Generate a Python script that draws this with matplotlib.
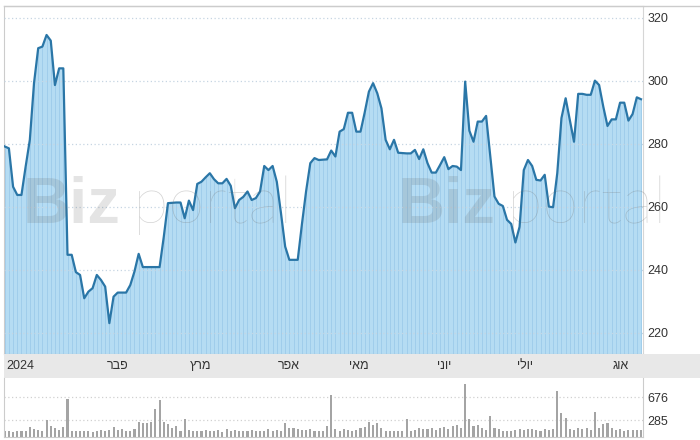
import numpy as np
import matplotlib.pyplot as plt
from matplotlib.lines import Line2D

# daily close (trading days, Jan - Aug 2024)
price = [279.2, 278.6, 266.4, 263.8, 263.8, 272.8, 281.3, 299.3, 310.4, 310.9,
         314.6, 312.8, 298.7, 304.0, 304.0, 244.8, 244.8, 239.3, 238.4, 231.0,
         233.1, 234.2, 238.4, 236.8, 234.7, 223.1, 231.5, 232.8, 232.8, 232.8,
         235.2, 239.5, 245.1, 240.9, 240.9, 240.9, 240.9, 240.9, 250.5, 261.2,
         261.3, 261.4, 261.4, 256.4, 262.0, 259.0, 267.3, 268.0, 269.4, 270.7,
         268.8, 267.5, 267.5, 268.9, 266.7, 259.6, 262.2, 263.2, 264.9, 262.2,
         262.8, 264.9, 273.0, 271.7, 273.0, 268.0, 258.0, 247.4, 243.2, 243.2,
         243.2, 254.5, 265.0, 273.9, 275.5, 274.9, 275.0, 275.1, 277.9, 276.0,
         283.9, 284.7, 289.9, 289.9, 283.9, 283.9, 290.0, 296.6, 299.3, 296.1,
         291.3, 281.3, 278.3, 281.3, 277.2, 277.1, 277.0, 277.0, 278.1, 275.2,
         278.3, 273.9, 270.9, 270.9, 273.3, 275.8, 272.0, 273.0, 272.8, 271.7,
         299.8, 284.2, 280.7, 287.1, 287.1, 288.9, 276.0, 263.3, 261.0, 260.3,
         255.9, 254.6, 248.7, 253.7, 271.7, 274.9, 273.0, 268.6, 268.4, 270.2,
         260.1, 259.9, 270.7, 288.2, 294.5, 287.6, 280.7, 295.9, 295.9, 295.6,
         295.6, 300.1, 298.7, 291.8, 285.7, 287.8, 287.8, 293.1, 293.1, 287.4,
         289.5, 294.8, 294.2]

volume = [95, 100, 90, 110, 105, 95, 170, 130, 125, 100,
          280, 180, 150, 120, 170, 650, 110, 105, 100, 95,
          110, 90, 105, 120, 100, 115, 170, 125, 135, 110,
          105, 140, 250, 240, 245, 250, 480, 630, 250, 220,
          150, 180, 110, 310, 120, 105, 95, 110, 120, 100,
          110, 115, 90, 130, 100, 120, 95, 105, 110, 125,
          100, 95, 110, 140, 105, 115, 100, 240, 160, 150,
          130, 120, 115, 130, 100, 110, 95, 180, 720, 130,
          110, 130, 120, 110, 120, 150, 170, 250, 200, 230,
          150, 100, 95, 100, 95, 105, 300, 110, 120, 150,
          140, 130, 160, 120, 150, 170, 140, 180, 200, 160,
          900, 300, 180, 200, 150, 120, 350, 150, 130, 110,
          100, 110, 120, 130, 115, 140, 135, 120, 110, 130,
          120, 140, 780, 400, 330, 140, 120, 150, 130, 160,
          120, 420, 150, 220, 230, 150, 120, 130, 110, 120,
          115, 125, 120]

month_idx = [0, 24, 44, 65, 82, 103, 122, 145]
month_labels = ['2024', 'פבר', 'מרץ', 'אפר', 'מאי', 'יוני', 'יולי', 'אוג']
price_ticks = [220, 240, 260, 280, 300, 320]
vol_ticks = [285, 676]

plt.rcParams['font.family'] = ['Liberation Sans', 'DejaVu Sans']

W, H = 700, 440
fig = plt.figure(figsize=(7, 4.4), dpi=100)


def box(x0, y0, x1, y1):
    # pixel box (top-left origin) -> figure fraction rect
    return [x0 / W, 1 - y1 / H, (x1 - x0) / W, (y1 - y0) / H]


step = 4.186  # px per trading day
xl = (-0.17, -0.17 + 639 / step)
x = np.arange(len(price))

# price panel
ax = fig.add_axes(box(4, 6, 643, 354))
ax.fill_between(x, price, 200, color='#b5dcf3', lw=0, zorder=1)
ax.vlines(x, 200, price, color='#a0cdeb', lw=0.7, zorder=2)
for t in price_ticks:
    ax.axhline(t, color='#c6d5e2', lw=0.9, ls=(0, (1, 2)), zorder=3)
ax.plot(x, price, color='#2a76a7', lw=1.6, zorder=4, solid_joinstyle='round')
ax.set_xlim(xl)
ax.set_ylim(213.3, 323.8)
ax.set_xticks([])
ax.yaxis.tick_right()
ax.set_yticks(price_ticks)
ax.tick_params(axis='y', length=0, pad=3, labelsize=9, labelcolor='#333333')
for s in ['top', 'left']:
    ax.spines[s].set_color('#cccccc')
ax.spines['right'].set_color('#d6d6d6')
ax.spines['bottom'].set_color('#b8b8b8')

# date band
band = fig.add_axes(box(4, 354, 700, 378))
band.set_facecolor('#e8e8e8')
band.set_xlim(xl[0], xl[0] + 696 / step)
band.set_ylim(0, 1)
band.set_xticks([])
band.set_yticks([])
for s in band.spines.values():
    s.set_visible(False)
for i, lab in zip(month_idx, month_labels):
    band.text(i + 0.3, 0.5, lab[::-1] if not lab.isdigit() else lab,
              ha='left', va='center', fontsize=9, color='#333333')

# volume panel
axv = fig.add_axes(box(4, 378, 643, 437))
axv.bar(x, volume, width=0.5, color='#a4a4a4', zorder=2)
for t in vol_ticks:
    axv.axhline(t, color='#d0d0d0', lw=0.9, ls=(0, (1, 2)), zorder=1)
axv.set_xlim(xl)
axv.set_ylim(0, 1000)
axv.set_xticks([])
axv.yaxis.tick_right()
axv.set_yticks(vol_ticks)
axv.tick_params(axis='y', length=0, pad=3, labelsize=9, labelcolor='#333333')
axv.spines['top'].set_visible(False)
for s in ['left', 'right', 'bottom']:
    axv.spines[s].set_color('#cccccc')

# top border runs to the right edge
fig.add_artist(Line2D([4 / W, 1], [1 - 6 / H] * 2, color='#cccccc', lw=1))

# watermark
for bx, px in [(23, 133), (398, 507)]:
    fig.text(bx / W, 1 - 223 / H, 'Biz', fontsize=47, fontweight='bold',
             color='#606060', alpha=0.17, ha='left', va='baseline')
    fig.text(px / W, 1 - 223 / H, 'portal', fontsize=47, fontweight='light',
             family=['Lato', 'DejaVu Sans'], color='#707070', alpha=0.3,
             ha='left', va='baseline')

fig.savefig('out.png', dpi=100)
